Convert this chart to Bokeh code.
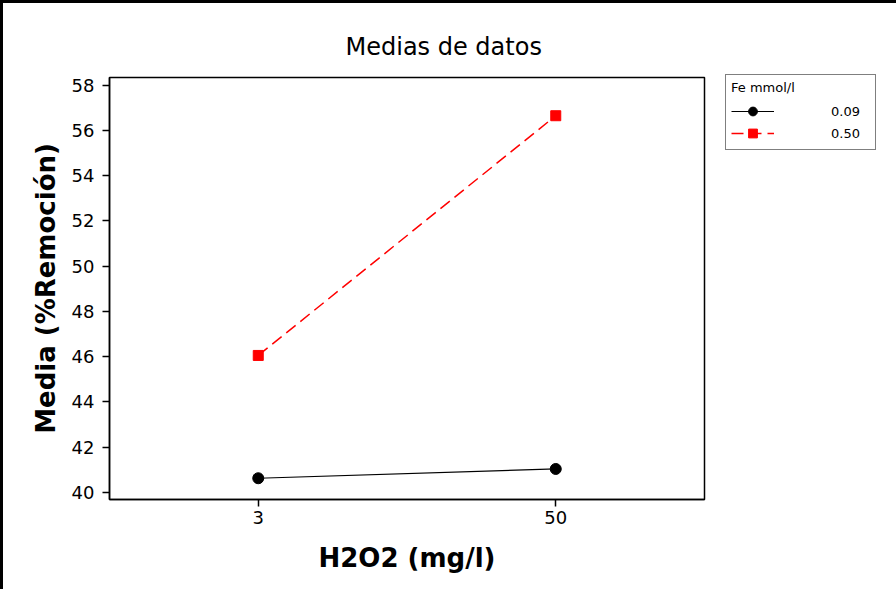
from bokeh.plotting import figure
from bokeh.models import Range1d, FixedTicker, Legend, LegendItem
from bokeh.embed import file_html
from bokeh.resources import INLINE

# ---- data ----
h2o2_labels = ["3", "50"]
x_pos = [1, 2]
fe_levels = ["0.09", "0.50"]
legend_title = "Fe mmol/l"
media_fe_009 = [40.62, 41.03]
media_fe_050 = [46.05, 56.65]
y_ticks = [40, 42, 44, 46, 48, 50, 52, 54, 56, 58]

FONT = "DejaVu Sans"

p = figure(
    frame_width=595, frame_height=422,
    min_border_left=106, min_border_right=176,
    min_border_top=74, min_border_bottom=90,
    x_range=Range1d(0.5, 2.5), y_range=Range1d(39.68, 58.34),
    output_backend="svg", toolbar_location=None,
    title="Medias de datos",
    styles={"border-left": "3px solid black", "border-top": "3px solid black"},
)
p.background_fill_color = "white"
p.border_fill_color = "white"
p.outline_line_color = "black"
p.outline_line_width = 1.5
p.grid.visible = False

p.title.text_font = FONT
p.title.text_font_size = "24px"
p.title.text_font_style = "normal"
p.title.text_color = "black"
p.title.align = "left"
p.title.offset = 236
p.title.standoff = 34

# axes
p.xaxis.ticker = FixedTicker(ticks=x_pos)
p.xaxis.major_label_overrides = {x: lab for x, lab in zip(x_pos, h2o2_labels)}
p.yaxis.ticker = FixedTicker(ticks=y_ticks)
for ax in (p.xaxis, p.yaxis):
    ax.axis_line_color = "black"
    ax.axis_line_width = 1.5
    ax.major_tick_line_color = "black"
    ax.major_tick_line_width = 1.5
    ax.major_tick_out = 7
    ax.major_tick_in = 0
    ax.minor_tick_line_color = None
    ax.major_label_text_font = FONT
    ax.major_label_text_font_size = "18px"
    ax.major_label_text_color = "black"
    ax.axis_label_text_font = FONT
    ax.axis_label_text_font_size = "26px"
    ax.axis_label_text_font_style = "bold"
    ax.axis_label_text_color = "black"
p.xaxis.axis_label = "H2O2 (mg/l)"
p.yaxis.axis_label = "Media (%Remoción)"
p.xaxis.major_label_standoff = 4
p.yaxis.major_label_standoff = 8
p.xaxis.axis_label_standoff = 16
p.yaxis.axis_label_standoff = 8

# series
l1 = p.line(x_pos, media_fe_009, line_color="black", line_width=1.2)
s1 = p.scatter(x_pos, media_fe_009, marker="circle", size=11,
               fill_color="black", line_color="black")
l2 = p.line(x_pos, media_fe_050, line_color="red", line_width=1.5,
            line_dash="12 6")
s2 = p.scatter(x_pos, media_fe_050, marker="square", size=10,
               fill_color="red", line_color="red")

legend = Legend(
    items=[LegendItem(label=fe_levels[0], renderers=[l1, s1]),
           LegendItem(label=fe_levels[1], renderers=[l2, s2])],
    location=(21, 349),
    title=legend_title,
    title_text_font=FONT, title_text_font_size="13px",
    title_text_font_style="normal", title_text_color="black",
    title_standoff=5,
    label_text_font=FONT, label_text_font_size="13px",
    label_text_color="black",
    glyph_width=43, glyph_height=22, label_height=22,
    label_standoff=57, label_width=39,
    padding=5, spacing=-1, margin=0,
    border_line_color="black", border_line_width=1,
    background_fill_color="white", background_fill_alpha=1.0,
)
p.add_layout(legend, "right")

open("out.html", "w").write(file_html(p, INLINE))
